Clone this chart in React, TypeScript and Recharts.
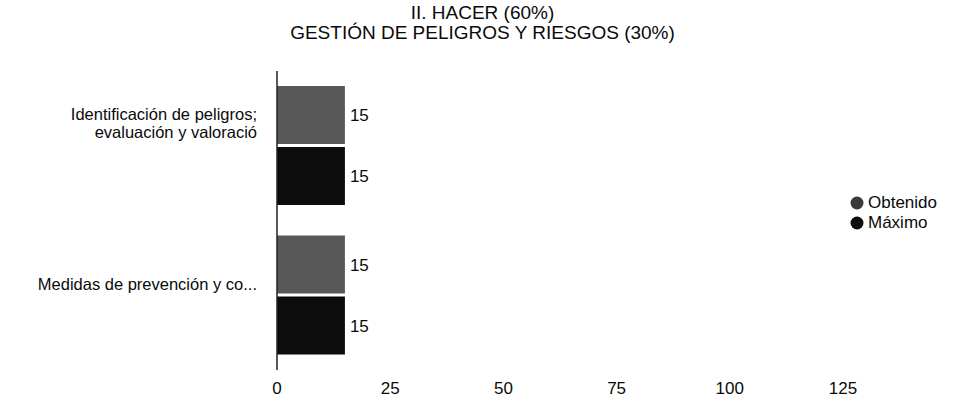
import React from 'react';
import { BarChart, Bar, XAxis, YAxis, LabelList } from 'recharts';

// categories and values
const categories = [
  'Identificación de peligros; evaluación y valoració',
  'Medidas de prevención y co...',
];
const obtenido = [15, 15];
const maximo = [15, 15];
const xTicks = [0, 25, 50, 75, 100, 125];

const data = categories.map((name, i) => ({
  name,
  obtenido: obtenido[i],
  maximo: maximo[i],
}));

const FONT = '"Liberation Sans", Arial, sans-serif';
const GRAY = '#585858';
const BLACK = '#0c0c0c';

const CategoryTick = (props: any) => {
  const { x, y, payload } = props;
  const value: string = payload.value;
  const parts = value.includes('; ') ? [value.split('; ')[0] + ';', value.split('; ')[1]] : [value];
  // labels sit a bit above the band centre in the original
  const startY = parts.length > 1 ? y - 32 : y - 11;
  return (
    <text x={x - 12} y={startY} textAnchor="end" fill="#0a0a0a" fontSize={16.5} fontFamily={FONT} dominantBaseline="central">
      {parts.map((p, i) => (
        <tspan key={i} x={x - 12} dy={i === 0 ? 0 : 18}>
          {p}
        </tspan>
      ))}
    </text>
  );
};

const legendItems = [
  { label: 'Obtenido', color: '#3a3a3a' },
  { label: 'Máximo', color: BLACK },
];

export default function App() {
  return (
    <div style={{ position: 'absolute', left: 0, top: 0, width: 965, height: 407, background: '#fff', fontFamily: FONT }}>
      <div style={{ position: 'absolute', left: 0, top: 3, width: 965, textAlign: 'center', fontSize: 19, lineHeight: '20px', color: '#0a0a0a' }}>
        II. HACER (60%)
        <br />
        GESTIÓN DE PELIGROS Y RIESGOS (30%)
      </div>
      <BarChart
        width={965}
        height={407}
        data={data}
        layout="vertical"
        margin={{ top: 71, right: 122, left: 0, bottom: 7 }}
        barCategoryGap={15}
        barGap={3}
      >
        <XAxis
          type="number"
          domain={[0, 125]}
          ticks={xTicks}
          axisLine={false}
          tickLine={false}
          tickMargin={6}
          height={30}
          tick={{ fill: '#0a0a0a', fontSize: 17, fontFamily: FONT }}
        />
        <YAxis
          type="category"
          dataKey="name"
          width={277}
          axisLine={{ stroke: '#222', strokeWidth: 1.5 }}
          tickLine={false}
          tick={<CategoryTick />}
        />
        <Bar dataKey="obtenido" name="Obtenido" fill={GRAY} isAnimationActive={false}>
          <LabelList dataKey="obtenido" position="right" offset={5} fill="#0a0a0a" fontSize={17} fontFamily={FONT} />
        </Bar>
        <Bar dataKey="maximo" name="Máximo" fill={BLACK} isAnimationActive={false}>
          <LabelList dataKey="maximo" position="right" offset={5} fill="#0a0a0a" fontSize={17} fontFamily={FONT} />
        </Bar>
      </BarChart>
      <div style={{ position: 'absolute', left: 850, top: 193, fontSize: 17, color: '#0a0a0a' }}>
        {legendItems.map((it) => (
          <div key={it.label} style={{ display: 'flex', alignItems: 'center', height: 20 }}>
            <svg width={14} height={14} style={{ marginRight: 4 }}>
              <circle cx={7} cy={7} r={6.5} fill={it.color} />
            </svg>
            <span>{it.label}</span>
          </div>
        ))}
      </div>
    </div>
  );
}
